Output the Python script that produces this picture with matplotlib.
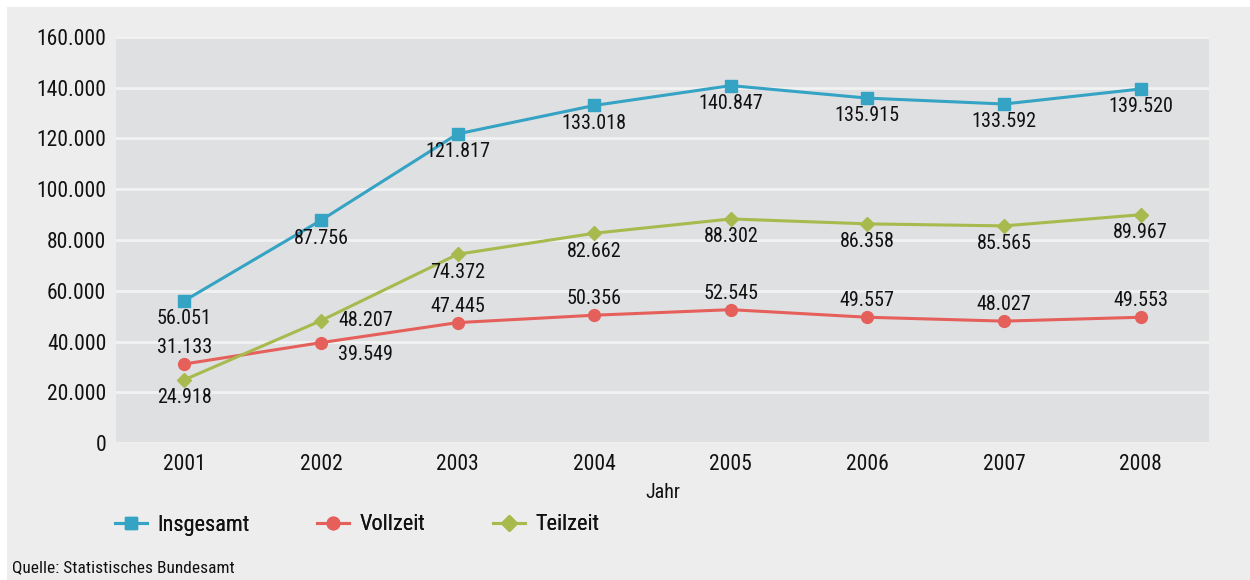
import matplotlib
matplotlib.use("Agg")
import matplotlib.pyplot as plt
from matplotlib.patches import Rectangle
from matplotlib.lines import Line2D
from matplotlib.ticker import FuncFormatter

plt.rcParams['font.family'] = ['Roboto Condensed', 'Open Sans Condensed', 'Liberation Sans Narrow',
                               'Roboto', 'DejaVu Sans']

years = ["2001", "2002", "2003", "2004", "2005", "2006", "2007", "2008"]
insgesamt = [56051, 87756, 121817, 133018, 140847, 135915, 133592, 139520]
vollzeit = [31133, 39549, 47445, 50356, 52545, 49557, 48027, 49553]
teilzeit = [24918, 48207, 74372, 82662, 88302, 86358, 85565, 89967]
series_names = ["Insgesamt", "Vollzeit", "Teilzeit"]
y_ticks = [0, 20000, 40000, 60000, 80000, 100000, 120000, 140000, 160000]

C_BLUE = "#35a3c4"
C_RED = "#e5605a"
C_GREEN = "#a8b94e"
PANEL = "#ecedec"
PLOT_BG = "#dfe0e2"
TXT = "#111111"

W, H = 1250, 580
fig = plt.figure(figsize=(W / 100, H / 100), dpi=100)
fig.patch.set_facecolor("white")
fig.add_artist(Rectangle((7 / W, 0), 1 - 7 / W, 1 - 7 / H, transform=fig.transFigure,
                         facecolor=PANEL, edgecolor="none", zorder=-10))

ax = fig.add_axes([116 / W, 1 - 443 / H, (1209 - 116) / W, (443 - 37) / H])
ax.set_facecolor(PLOT_BG)
for s in ax.spines.values():
    s.set_visible(False)

x = list(range(len(years)))
ax.set_xlim(-0.5, len(years) - 0.5)
ax.set_ylim(0, 160000)
ax.set_yticks(y_ticks)
ax.yaxis.set_major_formatter(FuncFormatter(lambda v, p: f"{int(v):,}".replace(",", ".")))
ax.set_xticks(x)
ax.set_xticklabels(years)
ax.tick_params(axis="both", length=0, labelsize=15.5, colors=TXT)
ax.tick_params(axis="y", pad=7)
ax.tick_params(axis="x", pad=8)
ax.grid(axis="y", color="#f2f2f2", linewidth=2)
ax.set_axisbelow(True)
ax.set_xlabel("Jahr", fontsize=14.5, color=TXT, labelpad=6)

lw = 2.2
ax.plot(x, insgesamt, color=C_BLUE, lw=lw, marker="s", ms=8.5, zorder=3)
ax.plot(x, vollzeit, color=C_RED, lw=lw, marker="o", ms=8.5, zorder=3)
ax.plot(x, teilzeit, color=C_GREEN, lw=lw, marker="D", ms=7.5, zorder=3)


def fmt(v):
    return f"{v:,}".replace(",", ".")


lab_kw = dict(fontsize=14.5, color=TXT, ha="center")
for i, v in enumerate(insgesamt):
    ax.annotate(fmt(v), (i, v), xytext=(0, -6), textcoords="offset points", va="top", **lab_kw)
for i, v in enumerate(vollzeit):
    if i == 1:
        ax.annotate(fmt(v), (i, v), xytext=(32, -2), textcoords="offset points", va="top", **lab_kw)
    else:
        ax.annotate(fmt(v), (i, v), xytext=(0, 5), textcoords="offset points", va="bottom", **lab_kw)
for i, v in enumerate(teilzeit):
    if i == 1:
        ax.annotate(fmt(v), (i, v), xytext=(32, 0), textcoords="offset points", va="center", **lab_kw)
    else:
        ax.annotate(fmt(v), (i, v), xytext=(0, -6), textcoords="offset points", va="top", **lab_kw)

# Legend entries, one per series, placed along the bottom
handles = [
    Line2D([], [], color=C_BLUE, lw=lw, marker="s", ms=9),
    Line2D([], [], color=C_RED, lw=lw, marker="o", ms=9),
    Line2D([], [], color=C_GREEN, lw=lw, marker="D", ms=8),
]
leg_x = [106, 308, 484]
for h, name, lx in zip(handles, series_names, leg_x):
    lg = fig.legend([h], [name], loc="center left", bbox_to_anchor=(lx / W, 1 - 525 / H),
                    frameon=False, fontsize=16, handlelength=1.45, handletextpad=0.45,
                    borderaxespad=0, labelcolor=TXT)
    fig.add_artist(lg)

fig.text(12 / W, 1 - 568 / H, "Quelle: Statistisches Bundesamt", fontsize=12.5,
         color=TXT, va="center", ha="left")

fig.savefig("out.png", dpi=100, facecolor=fig.get_facecolor())
